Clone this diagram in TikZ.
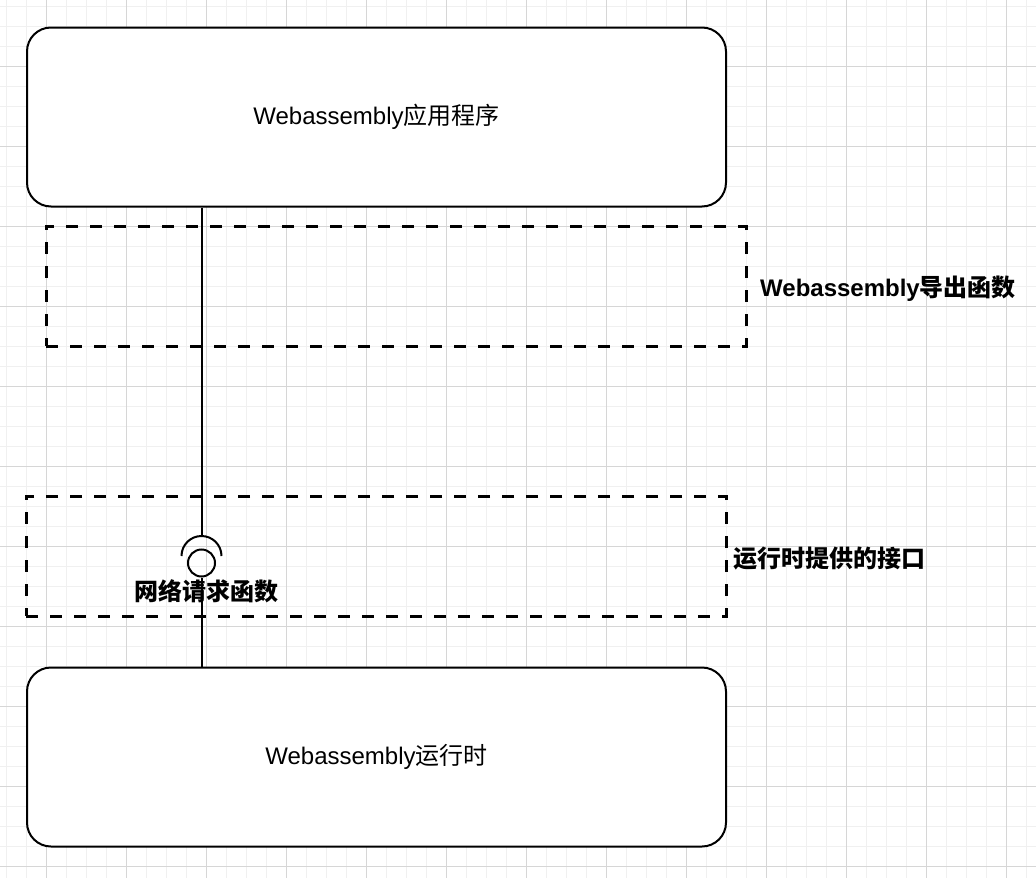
\documentclass[tikz,border=0pt]{standalone}
\usepackage{fontspec}
\setmainfont{Liberation Sans}
\newfontfamily\cjk{Noto Sans CJK SC}
\usetikzlibrary{positioning}
\definecolor{minorgrid}{RGB}{240,240,240}
\definecolor{majorgrid}{RGB}{214,214,214}

\begin{document}
\begin{tikzpicture}[x=0.75pt, y=-0.75pt, node distance=6pt,
    box/.style={draw, fill=white, line width=1.5pt, rounded corners=18pt,
      minimum width=524.25pt, minimum height=134.25pt,
      font=\fontsize{18}{22}\selectfont},
    frame/.style={draw, line width=2.25pt, dash pattern=on 9pt off 9pt,
      minimum width=525pt, minimum height=90pt},
    lbl/.style={font=\fontsize{18}{22}\selectfont\bfseries},
    wire/.style={line width=1.5pt}]
    \useasboundingbox (0,0) rectangle (1036,878);
    \fill[white] (0,0) rectangle (1036,878);
    % background grid
    \foreach \x in {6,26,...,1036} \draw[minorgrid, line width=0.75pt] (\x,0) -- (\x,878);
    \foreach \y in {6,26,...,878} \draw[minorgrid, line width=0.75pt] (0,\y) -- (1036,\y);
    \foreach \x in {46,126,...,1036} \draw[majorgrid, line width=0.75pt] (\x,0) -- (\x,878);
    \foreach \y in {66,146,...,878} \draw[majorgrid, line width=0.75pt] (0,\y) -- (1036,\y);

    \node (app) [box] at (376.5,117) {Webassembly{\cjk 应用程序}};
    \node (rt) [box] at (376.5,757) {Webassembly{\cjk 运行时}};
    \node (exp) [frame] at (396,286) {};
    \node (imp) [frame] at (376,556) {};
    \node (explbl) [lbl, right=of exp, yshift=-2.25pt] {Webassembly{\cjk 导出函数}};
    \node (implbl) [lbl, right=1pt of imp, yshift=-2.25pt] {\cjk 运行时提供的接口};

    % ball and socket
    \node (ball) [circle, draw, line width=1.5pt, minimum size=20.25pt, inner sep=0pt] at (201.5,563) {};
    \coordinate (socktop) at (201.5,536);
    \draw[wire] (181.5,556) arc[start angle=180, end angle=0, radius=15pt];
    \node (reqlbl) [lbl] at (206,591) {\cjk 网络请求函数};

    \draw[wire] (app.south -| socktop) -- (socktop);
    \draw[wire] (ball.south) -- (ball.south |- rt.north);
  \end{tikzpicture}
\end{document}
